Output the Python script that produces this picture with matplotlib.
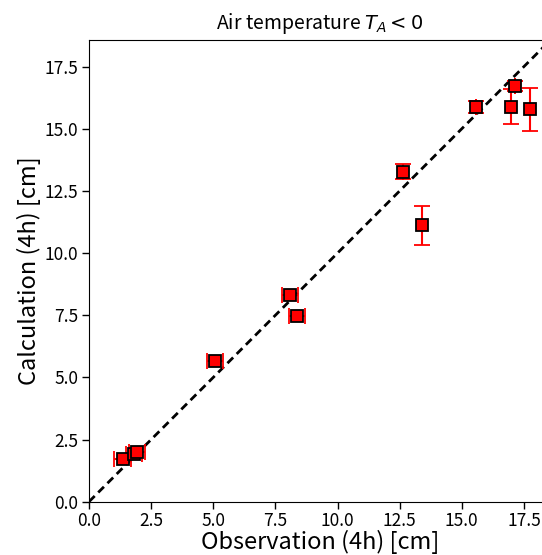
import matplotlib
matplotlib.use("Agg")
import matplotlib.pyplot as plt
import numpy as np

plt.rcParams['font.family'] = ['Noto Sans CJK JP', 'DejaVu Sans']
plt.rcParams['mathtext.fontset'] = 'dejavusans'

obs = [1.35, 1.82, 1.92, 5.07, 8.09, 8.38, 12.65, 13.39, 15.56, 17.14, 16.98, 17.75]
calc = [1.73, 1.90, 1.98, 5.65, 8.30, 7.45, 13.28, 11.11, 15.89, 16.72, 15.89, 15.78]
obs_err = [0.33, 0.33, 0.33, 0.33, 0.33, 0.33, 0.0, 0.0, 0.0, 0.0, 0.0, 0.0]
calc_err = [0.0, 0.0, 0.0, 0.0, 0.0, 0.0, 0.31, 0.78, 0.24, 0.22, 0.70, 0.87]
ticks = [0.0, 2.5, 5.0, 7.5, 10.0, 12.5, 15.0, 17.5]
lim = [0.0, 18.57]

fig = plt.figure(figsize=(5.42, 5.55), dpi=100)
ax = fig.add_axes([89/542, 53.3/555, 461.5/542, 461.7/555])

ax.plot(lim, lim, color='black', lw=2, linestyle=(0, (2.9, 1.8)), zorder=1)
ax.errorbar(obs, calc, xerr=obs_err, yerr=calc_err, fmt='s', color='red',
            ecolor='red', elinewidth=1.5, capsize=5.5, capthick=1.5,
            markersize=8, markerfacecolor='red', markeredgecolor='black',
            markeredgewidth=1.3, zorder=3)

ax.set_xlim(lim)
ax.set_ylim(lim)
ax.set_xticks(ticks)
ax.set_yticks(ticks)
ax.tick_params(labelsize=12.5, length=5, width=1, pad=2.5)
ax.set_xlabel('Observation (4h) [cm]', fontsize=17, labelpad=0)
ax.set_ylabel('Calculation (4h) [cm]', fontsize=17, labelpad=3)
ax.set_title('Air temperature $T_A < 0$', fontsize=14, pad=8)

fig.savefig('out.png', dpi=100)
